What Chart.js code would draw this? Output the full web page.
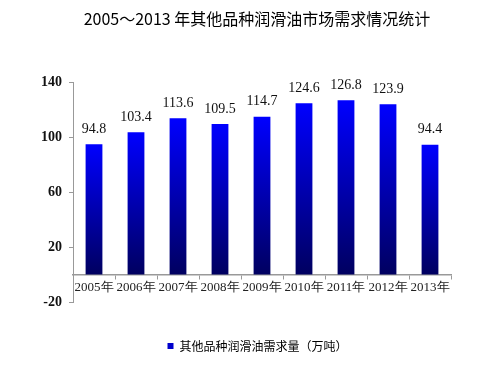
<!DOCTYPE html>
<html>
<head>
<meta charset="utf-8">
<script src="https://cdn.jsdelivr.net/npm/chart.js@4/dist/chart.umd.min.js"></script>
<style>
  html, body { margin: 0; padding: 0; background: #fff; }
  #wrap { width: 491px; height: 366px; }
</style>
</head>
<body>
<div id="wrap"><canvas id="chart"></canvas></div>
<script>
const years = ['2005年', '2006年', '2007年', '2008年', '2009年', '2010年', '2011年', '2012年', '2013年'];
const demand = [94.8, 103.4, 113.6, 109.5, 114.7, 124.6, 126.8, 123.9, 94.4];
const yTicks = [-20, 20, 60, 100, 140];
const titleText = '2005～2013 年其他品种润滑油市场需求情况统计';
const legendText = '其他品种润滑油需求量（万吨）';

// 每根柱子单独渐变：顶部亮蓝，底部深蓝
function barGradient(ctx) {
    const chart = ctx.chart;
    const y = chart.scales.y;
    if (!y || ctx.dataIndex === undefined) return '#0000ff';
    const top = y.getPixelForValue(demand[ctx.dataIndex]);
    const bottom = y.getPixelForValue(0);
    if (!isFinite(top) || !isFinite(bottom)) return '#0000ff';
    const g = chart.ctx.createLinearGradient(0, top, 0, bottom);
    g.addColorStop(0, '#0000ff');
    g.addColorStop(1, '#000060');
    return g;
}

const valueLabels = {
    id: 'valueLabels',
    afterDatasetsDraw(chart) {
        const ctx = chart.ctx;
        const meta = chart.getDatasetMeta(0);
        ctx.save();
        ctx.font = '14px "Liberation Serif", serif';
        ctx.fillStyle = '#111';
        ctx.textAlign = 'center';
        ctx.textBaseline = 'bottom';
        meta.data.forEach((bar, i) => {
            ctx.fillText(demand[i].toFixed(1), bar.x, bar.y - 8);
        });
        ctx.restore();
    }
};

// 标题偏右，单独画
const titleDraw = {
    id: 'titleDraw',
    afterDraw(chart) {
        const ctx = chart.ctx;
        ctx.save();
        ctx.font = '16px "Noto Sans CJK SC", sans-serif';
        ctx.fillStyle = '#000';
        ctx.textAlign = 'center';
        ctx.textBaseline = 'middle';
        ctx.fillText(titleText, 257, 19);
        ctx.restore();
    }
};

// 图例整体右移，与原图一致
const legendShift = {
    id: 'legendShift',
    afterLayout(chart) {
        if (chart.legend) {
            chart.legend.left += 32;
            chart.legend.right += 32;
        }
    }
};

new Chart(document.getElementById('chart'), {
    type: 'bar',
    data: {
        labels: years,
        datasets: [{
            label: legendText,
            data: demand,
            backgroundColor: barGradient,
            borderWidth: 0,
            barPercentage: 0.4,
            categoryPercentage: 1.0
        }]
    },
    options: {
        responsive: true,
        maintainAspectRatio: false,
        animation: false,
        layout: { padding: { left: 0, right: 40, top: 82, bottom: 4 } },
        plugins: {
            title: { display: false },
            legend: {
                position: 'bottom',
                labels: {
                    color: '#000',
                    boxWidth: 6,
                    boxHeight: 6,
                    padding: 12,
                    font: { family: '"Noto Sans CJK SC", sans-serif', size: 12 },
                    generateLabels: () => [{
                        text: legendText,
                        fillStyle: '#0000cc',
                        strokeStyle: '#0000cc',
                        lineWidth: 0,
                        fontColor: '#000'
                    }]
                }
            },
            tooltip: { enabled: false }
        },
        scales: {
            x: {
                position: { y: 0 },
                offset: true,
                grid: { display: true, drawOnChartArea: false, offset: true, tickLength: 4, color: '#999' },
                border: { color: '#999', width: 1.5 },
                ticks: {
                    color: '#222',
                    autoSkip: false,
                    maxRotation: 0,
                    padding: 1,
                    font: { family: '"Liberation Serif", serif', size: 13 }
                }
            },
            // 占位轴：在图表区和图例之间留出空白
            spacer: {
                type: 'category',
                axis: 'x',
                position: 'bottom',
                labels: years,
                grid: { display: false },
                border: { display: false },
                ticks: { display: false },
                afterFit: axis => { axis.height = 26; }
            },
            y: {
                min: -20,
                max: 140,
                afterBuildTicks: axis => { axis.ticks = yTicks.map(v => ({ value: v })); },
                afterFit: axis => { axis.width = 73; },
                grid: { display: true, drawOnChartArea: false, tickLength: 4, color: '#999' },
                border: { color: '#999', width: 1 },
                ticks: {
                    color: '#111',
                    padding: 7,
                    font: { family: '"Liberation Serif", serif', size: 14, weight: 'bold' }
                }
            }
        }
    },
    plugins: [valueLabels, titleDraw, legendShift]
});
</script>
</body>
</html>
